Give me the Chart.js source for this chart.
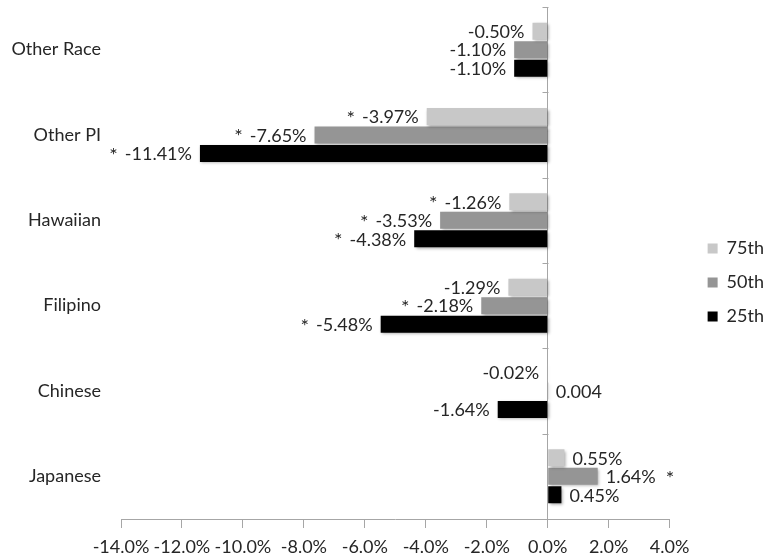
<!DOCTYPE html>
<html><head><meta charset="utf-8">
<script src="https://cdn.jsdelivr.net/npm/chart.js@4"></script>
<style>html,body{margin:0;padding:0;background:#fff}#wrap{width:774px;height:559px;position:relative}</style>
</head><body><div id="wrap"><canvas id="c"></canvas></div>
<script>
const categories = ['Other Race', 'Other PI', 'Hawaiian', 'Filipino', 'Chinese', 'Japanese'];
const seriesNames = ['75th', '50th', '25th'];
const values75 = [-0.50, -3.97, -1.26, -1.29, -0.02, 0.55];
const values50 = [-1.10, -7.65, -3.53, -2.18, 0.004, 1.64];
const values25 = [-1.10, -11.41, -4.38, -5.48, -1.64, 0.45];
const sig75 = [false, true, true, false, false, false];
const sig50 = [false, true, true, true, false, true];
const sig25 = [false, true, true, true, false, false];
// cells shown in the chart as a plain number instead of a percentage
const plainLabel50 = [false, false, false, false, true, false];
const xMin = -14, xMax = 4, xStep = 2;

const colors = ['#c8c8c8', '#959595', '#000000'];
const sigs = [sig75, sig50, sig25];
const plain = [null, plainLabel50, null];
const FONT = 'Lato';
const TEXT = '#262626';

function labelText(di, i, v) {
  if (plain[di] && plain[di][i]) return String(v);
  return v.toFixed(2) + '%';
}

const shadowPlugin = {
  id: 'barShadow',
  beforeDatasetDraw(chart) {
    const ctx = chart.ctx;
    ctx.save();
    ctx.shadowColor = 'rgba(0,0,0,0.35)';
    ctx.shadowBlur = 3;
    ctx.shadowOffsetX = 1.5;
    ctx.shadowOffsetY = 1.5;
  },
  afterDatasetDraw(chart) { chart.ctx.restore(); }
};

const zeroAxisPlugin = {
  id: 'zeroAxis',
  afterDraw(chart) {
    const ctx = chart.ctx;
    const x0 = Math.round(chart.scales.x.getPixelForValue(0)) + 0.5;
    const ys = chart.scales.y;
    ctx.save();
    ctx.strokeStyle = '#a6a6a6';
    ctx.lineWidth = 1;
    ctx.beginPath();
    for (let i = 0; i <= categories.length; i++) {
      const yy = Math.round(ys.getPixelForValue(i - 0.5)) + 0.5;
      ctx.moveTo(x0 - 6, yy);
      ctx.lineTo(x0, yy);
    }
    ctx.stroke();
    ctx.restore();
  }
};

const labelPlugin = {
  id: 'barLabels',
  afterDatasetsDraw(chart) {
    const ctx = chart.ctx;
    ctx.save();
    ctx.fillStyle = TEXT;
    ctx.textBaseline = 'middle';
    chart.data.datasets.forEach((ds, di) => {
      const meta = chart.getDatasetMeta(di);
      meta.data.forEach((bar, i) => {
        const v = ds.data[i];
        const txt = labelText(di, i, v);
        const neg = v < 0;
        const x = neg ? bar.x - 8 : bar.x + 8;
        ctx.font = '18px ' + FONT;
        ctx.textAlign = neg ? 'right' : 'left';
        ctx.fillText(txt, x, bar.y + 1);
        if (sigs[di][i]) {
          const w = ctx.measureText(txt).width;
          ctx.font = '20px ' + FONT;
          if (neg) { ctx.textAlign = 'right'; ctx.fillText('*', x - w - 7, bar.y + 2); }
          else { ctx.textAlign = 'left'; ctx.fillText('*', x + w + 10, bar.y + 2); }
        }
      });
    });
    ctx.restore();
  }
};

const datasets = [values75, values50, values25].map((vals, k) => ({
  label: seriesNames[k],
  data: vals,
  backgroundColor: colors[k],
  borderWidth: 0,
  categoryPercentage: 0.65,
  barPercentage: 0.92
}));

new Chart(document.getElementById('c'), {
  type: 'bar',
  data: { labels: categories, datasets },
  options: {
    indexAxis: 'y',
    responsive: true,
    maintainAspectRatio: false,
    animation: false,
    layout: { padding: { top: 7, bottom: 1, left: 0, right: 0 } },
    plugins: {
      legend: {
        position: 'right',
        labels: {
          boxWidth: 10, boxHeight: 10, padding: 16,
          color: TEXT, font: { family: FONT, size: 18 }
        }
      },
      tooltip: { enabled: false }
    },
    scales: {
      x: {
        min: xMin, max: xMax,
        ticks: {
          stepSize: xStep, padding: 8, color: TEXT,
          font: { family: FONT, size: 18 },
          maxRotation: 0, autoSkip: false,
          callback: v => v.toFixed(1) + '%'
        },
        grid: {
          drawOnChartArea: true,
          color: c => (c.tick && c.tick.value === 0) ? '#a6a6a6' : 'rgba(0,0,0,0)',
          tickColor: '#a6a6a6',
          tickLength: 9
        },
        border: { display: true, color: '#a6a6a6' },
        afterFit: s => { s.height = 39; s.paddingBottom = 0; }
      },
      y: {
        grid: { display: false, drawTicks: false },
        border: { display: false },
        ticks: { padding: 20, color: TEXT, font: { family: FONT, size: 18 } },
        afterFit: s => { s.width = 121; s.paddingTop = 0; s.paddingBottom = 0; }
      },
      spacer: {
        type: 'linear', position: 'right', display: true,
        grid: { display: false, drawTicks: false },
        border: { display: false },
        ticks: { display: false },
        afterFit: s => { s.width = 22; s.paddingTop = 0; s.paddingBottom = 0; }
      }
    }
  },
  plugins: [shadowPlugin, labelPlugin, zeroAxisPlugin]
});
</script>
</body></html>
